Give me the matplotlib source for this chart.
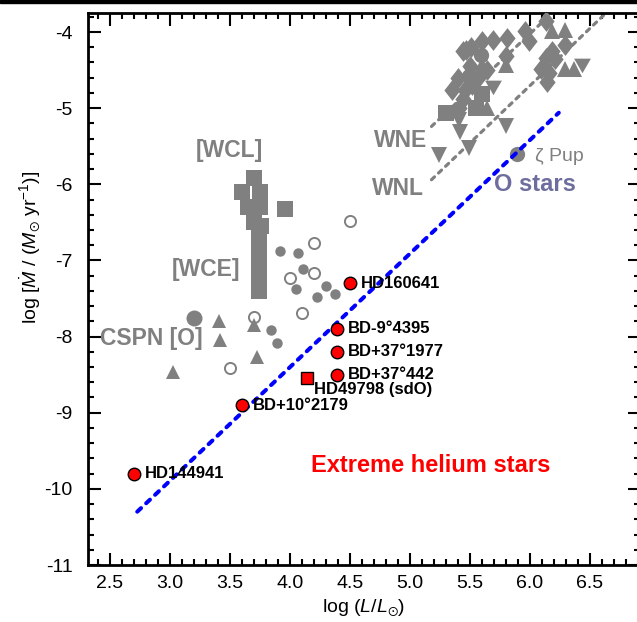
import matplotlib
matplotlib.use("Agg")
import matplotlib.pyplot as plt
from matplotlib.patches import Rectangle
from matplotlib.ticker import MultipleLocator

plt.rcParams.update({
    "font.family": ["Liberation Sans", "DejaVu Sans"],
    "mathtext.fontset": "custom",
    "mathtext.rm": "Liberation Sans",
    "mathtext.it": "Liberation Sans:italic",
    "mathtext.fallback": "stixsans",
})

GRAY = "#808080"

# --- extreme helium stars (red) ---
ehe_names = ["HD144941", "BD+10°2179", "BD+37°442", "BD+37°1977",
             "BD-9°4395", "HD160641"]
ehe_logL = [2.70, 3.60, 4.39, 4.39, 4.39, 4.50]
ehe_mdot = [-9.80, -8.90, -8.50, -8.20, -7.90, -7.30]
sdo_name = "HD49798 (sdO)"
sdo_logL = [4.14]
sdo_mdot = [-8.55]

# --- [WC] central stars (squares) ---
wc_logL = [3.70, 3.60, 3.75, 3.65, 3.75, 3.70, 3.76, 3.74, 3.74, 3.74,
           3.74, 3.74, 3.74, 3.74, 3.74, 3.74, 3.96]
wc_mdot = [-5.92, -6.10, -6.10, -6.30, -6.30, -6.50, -6.55, -6.65, -6.75,
           -6.85, -6.95, -7.05, -7.15, -7.25, -7.33, -7.40, -6.33]

# --- filled small circles ---
fc_logL = [3.92, 4.07, 4.11, 4.05, 4.30, 4.23, 4.38, 3.84, 3.89]
fc_mdot = [-6.87, -6.90, -7.11, -7.37, -7.33, -7.48, -7.44, -7.92, -8.08]

# --- open circles ---
oc_logL = [4.50, 4.20, 4.00, 4.20, 4.10, 3.70, 3.50]
oc_mdot = [-6.48, -6.77, -7.23, -7.16, -7.69, -7.74, -8.41]

# --- CSPN [O] triangles ---
cs_tri_logL = [3.41, 3.42, 3.03, 3.70, 3.73]
cs_tri_mdot = [-7.79, -8.04, -8.46, -7.85, -8.27]
cs_big_logL = [3.20]
cs_big_mdot = [-7.75]

# --- WN stars ---
wn_dia_logL = [5.47, 5.44, 5.51, 5.60, 5.69, 5.81, 5.96, 6.13, 5.99, 5.80,
               5.40, 5.35, 5.46, 5.52, 5.64, 5.44, 5.41, 5.57, 5.50,
               6.29, 6.18, 6.13, 6.09, 6.21, 6.14, 6.16]
wn_dia_mdot = [-4.23, -4.25, -4.19, -4.12, -4.10, -4.08, -3.99, -3.86, -4.12,
               -4.32, -4.61, -4.76, -4.76, -4.69, -4.50, -4.88, -5.00,
               -4.60, -4.45,
               -4.17, -4.25, -4.34, -4.48, -4.36, -4.65, -4.54]
wn_tri_logL = [5.60, 5.80, 5.64, 6.18, 6.29, 6.29, 6.37]
wn_tri_mdot = [-4.43, -4.43, -5.00, -3.99, -3.97, -4.48, -4.48]
wn_sq_logL = [5.30, 5.55, 5.60]
wn_sq_mdot = [-5.06, -5.00, -4.82]
wn_circ_logL = [5.59, 5.49]
wn_circ_mdot = [-4.30, -4.58]
wn_star_logL = [5.69, 6.43]
wn_star_mdot = [-4.69, -4.41]
wn_inv_logL = [5.42, 5.41, 5.80, 5.24, 5.49]
wn_inv_mdot = [-5.31, -5.15, -5.24, -5.61, -5.52]

zpup_logL = [5.89]
zpup_mdot = [-5.60]

# --- relations ---
ostar_logL = [2.73, 6.24]
ostar_mdot = [-10.30, -5.06]
wne_logL = [5.18, 6.17]
wne_mdot = [-5.24, -3.77]
wnl_logL = [5.18, 6.62]
wnl_mdot = [-5.94, -3.77]


fig = plt.figure(figsize=(6.37, 6.22), dpi=100)
ax = fig.add_axes([88 / 637, 57 / 622, 552 / 637, 552 / 622])
fig.patches.append(Rectangle((0, 1 - 3 / 622), 1, 3 / 622, color="black",
                             transform=fig.transFigure, zorder=10))

thin_dia = [(0, 1), (0.78, 0), (0, -1), (-0.78, 0), (0, 1)]

# gray dashed relations
for xs, ys in [(wne_logL, wne_mdot), (wnl_logL, wnl_mdot)]:
    ax.plot(xs, ys, color=GRAY, lw=2.3, dashes=(1.3, 1.75),
            dash_capstyle="round", zorder=2)

kw = dict(ls="none", color=GRAY, mec=GRAY, zorder=3)
ax.plot(wn_dia_logL, wn_dia_mdot, marker=thin_dia, ms=15, mew=0, **kw)
ax.plot(wn_tri_logL, wn_tri_mdot, marker="^", ms=11, mew=0, **kw)
ax.plot(wn_sq_logL, wn_sq_mdot, marker="s", ms=11, mew=0, **kw)
ax.plot(wn_circ_logL, wn_circ_mdot, marker="o", ms=11, mew=0, **kw)
ax.plot(wn_star_logL, wn_star_mdot, marker=(3, 1, 60), ms=14, mew=0, **kw)
ax.plot(wn_inv_logL, wn_inv_mdot, marker="v", ms=11, mew=0, **kw)
ax.plot(zpup_logL, zpup_mdot, marker="o", ms=11, mew=0, **kw)

ax.plot(wc_logL, wc_mdot, marker="s", ms=11.5, mew=0, **kw)
ax.plot(fc_logL, fc_mdot, marker="o", ms=7.5, mew=0, **kw)
ax.plot(oc_logL, oc_mdot, ls="none", marker="o", ms=8, mfc="white",
        mec=GRAY, mew=1.4, zorder=3)
ax.plot(cs_tri_logL, cs_tri_mdot, marker="^", ms=9.5, mew=0, **kw)
ax.plot(cs_big_logL, cs_big_mdot, marker="o", ms=11.5, mew=0, **kw)

# O-star relation
ax.plot(ostar_logL, ostar_mdot, color="#0000ff", lw=2.9, dashes=(1.3, 1.75),
        dash_capstyle="round", zorder=4)

# extreme helium stars
ax.plot(ehe_logL, ehe_mdot, ls="none", marker="o", ms=9, mfc="red",
        mec="black", mew=1, zorder=5)
ax.plot(sdo_logL, sdo_mdot, ls="none", marker="s", ms=9, mfc="red",
        mec="black", mew=1, zorder=5)
for name, lx, ly in zip(ehe_names, ehe_logL, ehe_mdot):
    ax.text(lx + 0.09, ly, name, fontsize=12, fontweight="bold",
            ha="left", va="center", zorder=6)
ax.text(sdo_logL[0] + 0.06, sdo_mdot[0] - 0.15, sdo_name, fontsize=12,
        fontweight="bold", ha="left", va="center", zorder=6)

# group labels
glab = dict(color=GRAY, fontweight="bold", fontsize=16.5, ha="center",
            va="center")
ax.text(3.50, -5.55, "[WCL]", **glab)
ax.text(3.30, -7.12, "[WCE]", **glab)
ax.text(2.85, -8.02, "CSPN [O]", **glab)
ax.text(4.92, -5.42, "WNE", **glab)
ax.text(4.90, -6.05, "WNL", **glab)
ax.text(6.04, -5.64, "ζ Pup", color=GRAY, fontsize=14, ha="left",
        va="center")
ax.text(5.70, -6.00, "O stars", color="#6e6e9e", fontweight="bold",
        fontsize=17, ha="left", va="center")
ax.text(5.17, -9.69, "Extreme helium stars", color="red", fontweight="bold",
        fontsize=17, ha="center", va="center")

ax.set_xlim(2.32, 2.32 + 552 / 120.1)
ax.set_ylim(-11, -3.75)
ax.xaxis.set_major_locator(MultipleLocator(0.5))
ax.xaxis.set_minor_locator(MultipleLocator(0.1))
ax.yaxis.set_major_locator(MultipleLocator(1))
ax.yaxis.set_minor_locator(MultipleLocator(0.2))
ax.xaxis.set_major_formatter(plt.FuncFormatter(lambda v, p: f"{v:.1f}"))
ax.yaxis.set_major_formatter(plt.FuncFormatter(lambda v, p: f"{v:.0f}"))
ax.tick_params(which="both", direction="in", top=True, right=True,
               width=1.5, labelsize=14)
ax.tick_params(which="major", length=9)
ax.tick_params(which="minor", length=4.5)
ax.tick_params(axis="y", pad=11)
ax.tick_params(axis="x", pad=7)
for sp in ax.spines.values():
    sp.set_linewidth(2)

ax.set_xlabel(r"log ($L/L_{\odot}$)", fontsize=14)
ax.set_ylabel(r"log [$\dot{M}$ / ($M_{\odot}$ yr$^{-1}$)]", fontsize=14)
ax.yaxis.set_label_coords(-0.084, 0.575)

fig.savefig("out.png", dpi=100)
